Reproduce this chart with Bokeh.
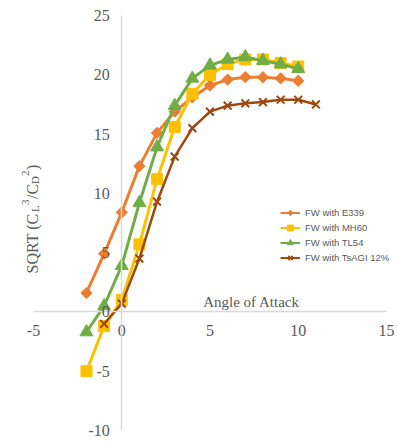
import math
from bokeh.plotting import figure
from bokeh.models import FixedTicker, Label, Legend, LegendItem
from bokeh.embed import file_html
from bokeh.resources import INLINE

# ---- data ----
aoa = [-2, -1, 0, 1, 2, 3, 4, 5, 6, 7, 8, 9, 10]
aoa_tsagi = [-1, 0, 1, 2, 3, 4, 5, 6, 7, 8, 9, 10, 11]
e339 = [1.6, 4.9, 8.4, 12.3, 15.1, 16.9, 18.1, 19.1, 19.6, 19.8, 19.8, 19.7, 19.5]
mh60 = [-5.0, -1.2, 1.0, 5.7, 11.2, 15.6, 18.4, 20.0, 20.9, 21.3, 21.3, 21.0, 20.7]
tl54 = [-1.7, 0.5, 3.9, 9.2, 13.9, 17.4, 19.7, 20.8, 21.3, 21.5, 21.2, 20.9, 20.5]
tsagi = [-1.0, 0.7, 4.5, 9.3, 13.1, 15.5, 16.9, 17.4, 17.6, 17.7, 17.9, 17.9, 17.5]
series_names = ["FW with E339", "FW with MH60", "FW with TL54", "FW with TsAGI 12%"]
x_ticks = [-5, 0, 5, 10, 15]
y_ticks = [-10, -5, 0, 5, 10, 15, 20, 25]
x_title = "Angle of Attack"

W, H = 398, 441
p = figure(width=W, height=H, x_range=(-6.87, 15.68), y_range=(-10.93, 26.27),
           output_backend="svg", toolbar_location=None, title=None,
           min_border_left=0, min_border_right=0, min_border_top=0, min_border_bottom=0)
p.outline_line_color = None
p.grid.visible = False
p.background_fill_color = "white"
p.border_fill_color = "white"

p.xaxis.fixed_location = 0
p.yaxis.fixed_location = 0
p.xaxis.bounds = (x_ticks[0], x_ticks[-1])
p.yaxis.bounds = (y_ticks[0], y_ticks[-1])
p.xaxis.ticker = FixedTicker(ticks=x_ticks)
p.yaxis.ticker = FixedTicker(ticks=y_ticks)
p.xaxis.major_label_overrides = {t: str(t) for t in x_ticks}
p.yaxis.major_label_overrides = {t: str(t) for t in y_ticks}
p.axis.axis_line_color = "#d9d9d9"
p.axis.axis_line_width = 1.5
p.axis.major_tick_line_color = None
p.axis.minor_tick_line_color = None
p.axis.major_tick_out = 0
p.axis.major_tick_in = 0
p.axis.major_label_text_font = "Liberation Serif"
p.axis.major_label_text_font_size = "16px"
p.axis.major_label_text_color = "#595959"
p.yaxis.major_label_standoff = 12
p.xaxis.major_label_standoff = 13

styles = [
    dict(x=aoa, y=e339, color="#ED7D31", lw=3, marker="square", size=8, angle=math.pi / 4,
         lmarker="diamond", msize=7),
    dict(x=aoa, y=mh60, color="#FFC000", lw=3, marker="square", size=11, angle=0,
         lmarker="square", msize=6),
    dict(x=aoa, y=tl54, color="#70AD47", lw=3, marker="triangle", size=13, angle=0,
         lmarker="triangle", msize=7),
    dict(x=aoa_tsagi, y=tsagi, color="#9E480E", lw=2.5, marker="x", size=11, angle=0,
         lmarker="x", msize=7),
]

nan = float("nan")
items = []
for name, s in zip(series_names, styles):
    p.line(s["x"], s["y"], line_color=s["color"], line_width=s["lw"])
    if s["marker"] == "x":
        p.scatter(s["x"], s["y"], marker="x", size=s["size"], line_color=s["color"], line_width=2)
    else:
        p.scatter(s["x"], s["y"], marker=s["marker"], size=s["size"], angle=s["angle"],
                  fill_color=s["color"], line_color=s["color"])
    # legend-only renderers (no visible marks in the plot)
    lr = p.line([nan], [nan], line_color=s["color"], line_width=2)
    if s["lmarker"] == "x":
        mr = p.scatter([nan], [nan], marker="x", size=s["msize"], line_color=s["color"], line_width=1.5)
    else:
        mr = p.scatter([nan], [nan], marker=s["lmarker"], size=s["msize"],
                       fill_color=s["color"], line_color=s["color"])
    items.append(LegendItem(label=name, renderers=[lr, mr]))

legend = Legend(items=items, location=(280, 176), padding=0, margin=0, spacing=0,
                glyph_width=20, glyph_height=15, label_height=15, label_standoff=5,
                label_text_font="Liberation Sans", label_text_font_size="9.5px",
                label_text_color="#595959", border_line_alpha=0, background_fill_alpha=0)
p.add_layout(legend, "center")

# x axis title
p.add_layout(Label(x=251, y=H - 301.5, x_units="screen", y_units="screen", text=x_title,
                   text_align="center", text_baseline="alphabetic",
                   text_font="Liberation Serif", text_font_size="15px", text_color="#595959"))

# y axis title composed of pieces (rotated, reads bottom to top)
bx = 31.5          # baseline x (page px)
by = H - 273       # start of text (page y 273)
pieces = [
    ("SQRT (C", 0, 0, "16px"),
    ("L", 61.5, 3, "11px"),
    ("3", 68.5, -7, "11px"),
    ("/C", 74.5, 0, "16px"),
    ("D", 89.5, 3, "11px"),
    ("2", 97.5, -7, "11px"),
    (")", 103.5, 0, "16px"),
]
for txt, dy, dx, fs in pieces:
    p.add_layout(Label(x=bx + dx, y=by + dy, x_units="screen", y_units="screen", text=txt,
                       angle=math.pi / 2, text_align="left", text_baseline="alphabetic",
                       text_font="Liberation Serif", text_font_size=fs, text_color="#595959"))

open("out.html", "w").write(file_html(p, INLINE))
